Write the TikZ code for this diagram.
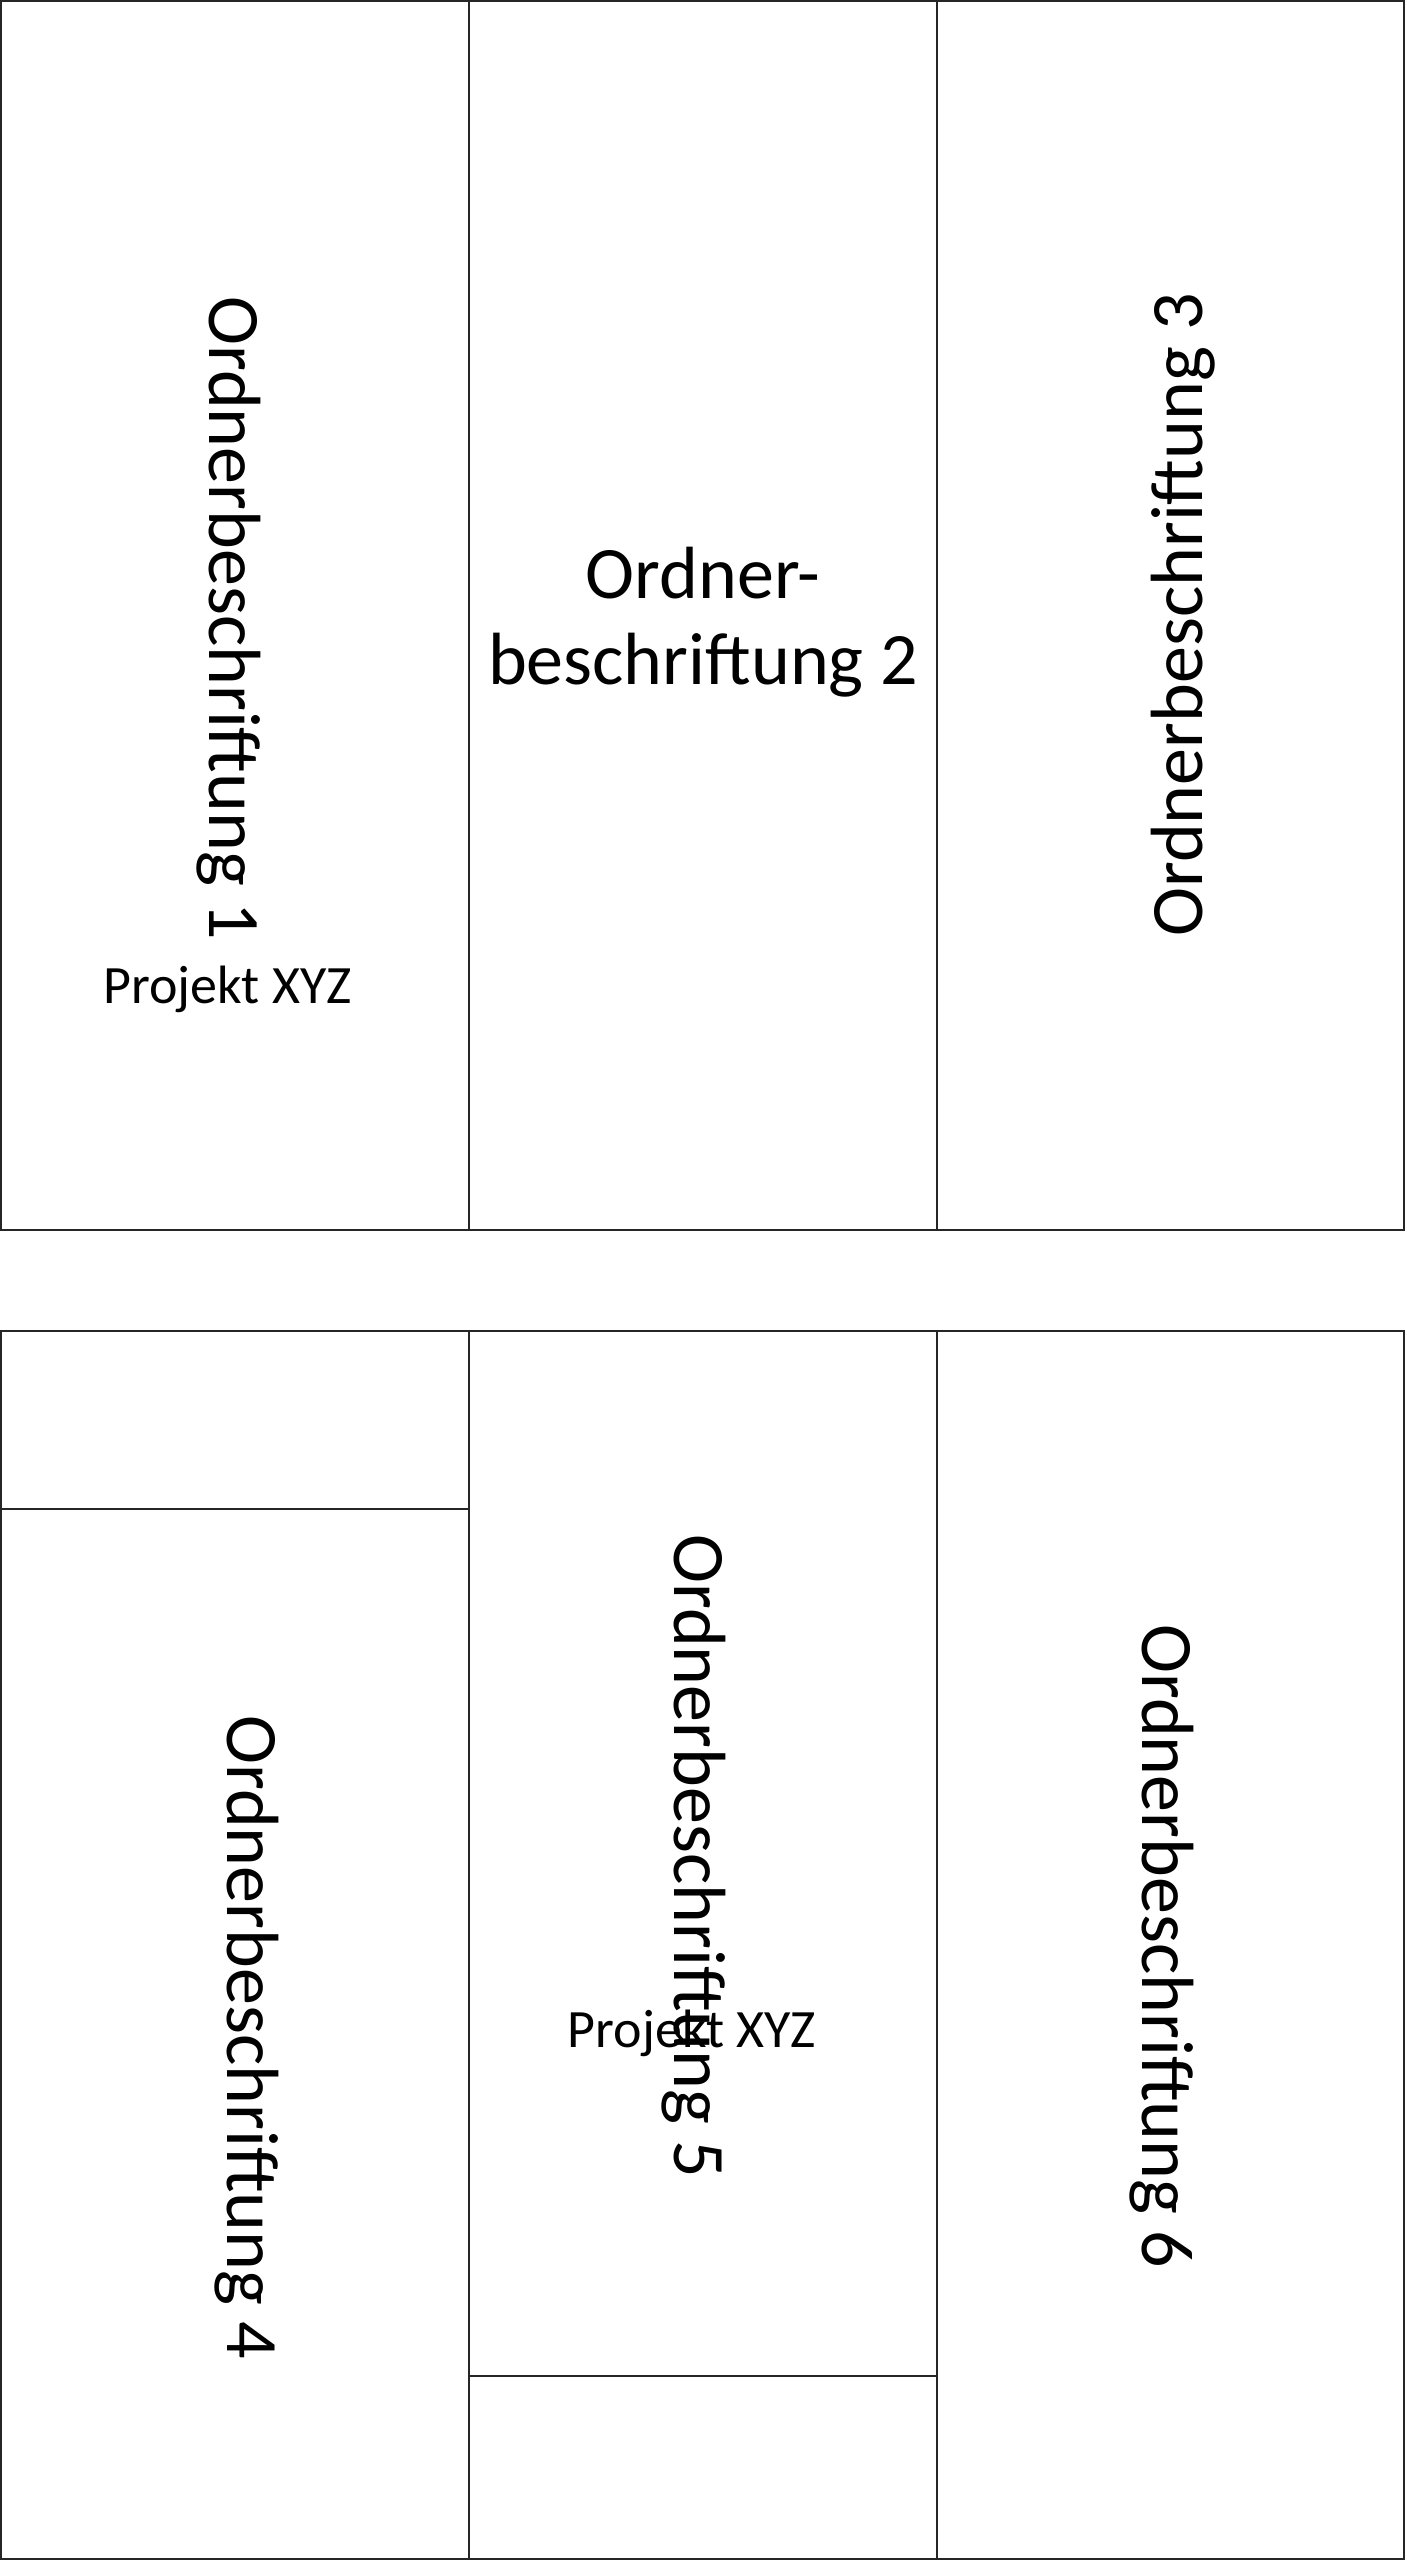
\documentclass[tikz,border=0pt]{standalone}
\usepackage{fontspec}
\setmainfont{Carlito}
\tikzset{
  frame/.style={draw=black!85, line width=1.8pt},
  big/.style={inner sep=0pt, font=\fontsize{74}{86}\selectfont},
  small/.style={inner sep=0pt, font=\fontsize{54}{60}\selectfont},
}
\begin{document}
\begin{tikzpicture}[x=1pt,y=-1pt]
\useasboundingbox (0,0) rectangle (1406,2560);
% top row of spines
\draw[frame] (1,1) rectangle (1404,1230);
\draw[frame] (469,1) -- (469,1230);
\draw[frame] (937,1) -- (937,1230);
% bottom row of spines
\draw[frame] (1,1331) rectangle (1404,2559);
\draw[frame] (469,1331) -- (469,2559);
\draw[frame] (937,1331) -- (937,2559);
\draw[frame] (1,1509) -- (469,1509);
\draw[frame] (469,2376) -- (937,2376);
% labels
\node[big, rotate=-90, anchor=base west] (l1) at (209,296) {Ordnerbeschriftung 1};
\node[small, anchor=base] (p1) at (227.5,1003) {Projekt XYZ};
\node[big, align=center, anchor=base] (l2) at (703,684) {Ordner-\\beschriftung 2};
\node[big, rotate=90, anchor=base west] (l3) at (1202,937) {Ordnerbeschriftung 3};
\node[big, rotate=-90, anchor=base west] (l4) at (227,1715) {Ordnerbeschriftung 4};
\node[big, rotate=-90, anchor=base west] (l5) at (674,1534) {Ordnerbeschriftung 5};
\node[small, anchor=base] (p2) at (692,2047) {Projekt XYZ};
\node[big, rotate=-90, anchor=base west] (l6) at (1142,1624) {Ordnerbeschriftung 6};
\end{tikzpicture}
\end{document}
